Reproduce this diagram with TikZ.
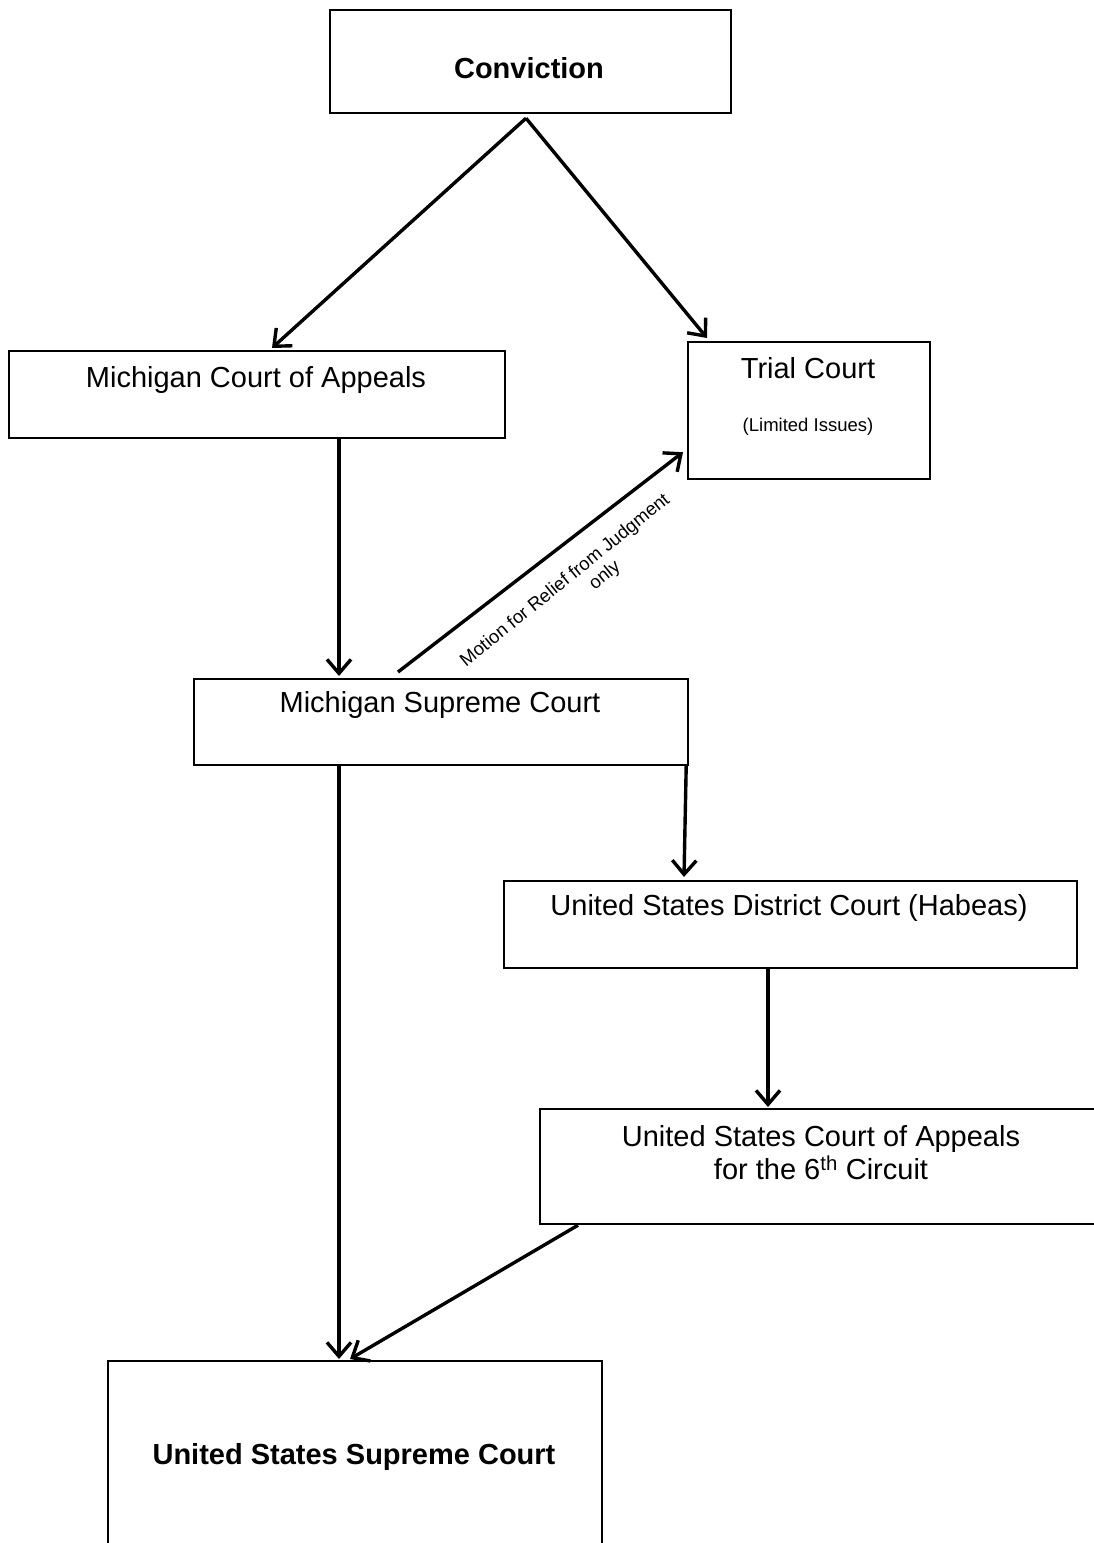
\documentclass[tikz,border=0pt]{standalone}
\usepackage{fontspec}
\setmainfont{Liberation Sans}
\usetikzlibrary{arrows.meta,calc}
\begin{document}
\begin{tikzpicture}[x=1pt,y=-1pt,
  box/.style={draw=black, line width=2.2pt, inner sep=0pt, anchor=north west},
  big/.style={font=\fontsize{29}{33}\selectfont, inner sep=0pt, align=center},
  bigb/.style={font=\fontsize{29}{33}\selectfont\bfseries, inner sep=0pt},
  small/.style={font=\fontsize{18.5}{21}\selectfont, inner sep=0pt, align=center},
  arr/.style={line width=3.4pt, -{Straight Barb[length=14pt,width=24pt]}}]
\useasboundingbox (0,0) rectangle (1094,1543);
\fill[white] (0,0) rectangle (1094,1543);
\clip (0,0) rectangle (1094,1543);
% boxes
\node[box, minimum width=401pt, minimum height=103pt] (conv) at (329,9) {};
\node[box, minimum width=496pt, minimum height=87pt] (mca) at (8,350) {};
\node[box, minimum width=242pt, minimum height=137pt] (trial) at (687,341) {};
\node[box, minimum width=494pt, minimum height=86pt] (msc) at (193,678) {};
\node[box, minimum width=573pt, minimum height=87pt] (usdc) at (503,880) {};
\node[box, minimum width=564pt, minimum height=115pt] (usca) at (539,1108) {};
\node[box, minimum width=494pt, minimum height=220pt] (ussc) at (107,1360) {};
% texts
\node[bigb] (tconv) at (529,68) {Conviction};
\node[big] (tmca) at (256,380) {Michigan Court of Appeals};
\node[big] (ttrial) at (808,368) {Trial Court};
\node[small] (tlim) at (808,427) {(Limited Issues)};
\node[big] (tmsc) at (440,705) {Michigan Supreme Court};
\node[big] (tusdc) at (789,908) {United States District Court (Habeas)};
\node[big] (tusca) at (821,1153) {United States Court of Appeals\\for the 6\textsuperscript{th} Circuit};
\node[bigb] (tussc) at (354,1457) {United States Supreme Court};
% connectors
\draw[arr] ($(conv.south west)+(197,4)$) -- ($(mca.north west)+(264,-2)$);
\draw[arr] ($(conv.south west)+(197,4)$) -- ($(trial.north west)+(20,-3)$);
\draw[arr] ($(mca.south west)+(331,0)$) -- ($(msc.north west)+(146,-2)$);
\draw[arr] ($(msc.north west)+(205,-6)$) -- ($(trial.south west)+(-4,-28)$);
\draw[arr] ($(msc.south west)+(146,0)$) -- ($(ussc.north west)+(232,-1)$);
\draw[arr] ($(msc.south east)+(-3,0)$) -- ($(usdc.north west)+(181,-3)$);
\draw[arr] ($(usdc.south west)+(265,0)$) -- ($(usca.north west)+(229,-1)$);
\draw[arr] ($(usca.south west)+(39,0)$) -- ($(ussc.north west)+(243,-1)$);
% label
\node[small, rotate=39] (lmotion) at (572,589) {Motion for Relief from Judgment\\\hspace*{68pt}only};
\end{tikzpicture}
\end{document}
